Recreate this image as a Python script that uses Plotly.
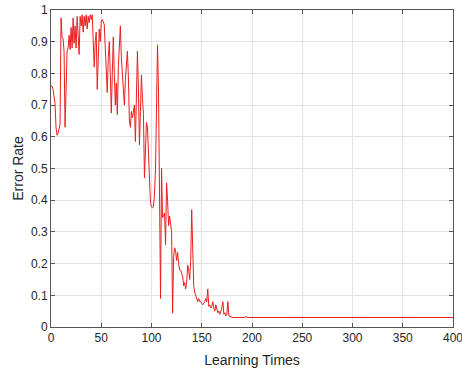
import plotly.graph_objects as go

learning_times = list(range(0, 201)) + [400]
error_rate = [
    0.76, 0.76, 0.75, 0.72, 0.705, 0.63, 0.605, 0.61, 0.63, 0.64,
    0.975, 0.915, 0.91, 0.87, 0.63, 0.78, 0.87, 0.88, 0.92, 0.875,
    0.945, 0.88, 0.975, 0.895, 0.95, 0.88, 0.98, 0.92, 0.86, 0.98,
    0.95, 0.985, 0.93, 0.98, 0.95, 0.985, 0.94, 0.98, 0.96, 0.985,
    0.97, 0.985, 0.91, 0.82, 0.90, 0.93, 0.75, 0.88, 0.94, 0.90,
    0.965, 0.97, 0.96, 0.955, 0.88, 0.82, 0.74, 0.85, 0.90, 0.80,
    0.675, 0.80, 0.915, 0.80, 0.70, 0.77, 0.67, 0.82, 0.89, 0.95,
    0.85, 0.80, 0.76, 0.70, 0.78, 0.83, 0.87, 0.79, 0.65, 0.63,
    0.68, 0.66, 0.68, 0.70, 0.585, 0.70, 0.87, 0.75, 0.575, 0.68,
    0.795, 0.72, 0.67, 0.47, 0.60, 0.645, 0.63, 0.54, 0.50, 0.39,
    0.38, 0.375, 0.38, 0.42, 0.50, 0.75, 0.89, 0.74, 0.41, 0.09,
    0.50, 0.345, 0.35, 0.36, 0.26, 0.455, 0.40, 0.32, 0.35, 0.33,
    0.30, 0.044, 0.22, 0.25, 0.24, 0.21, 0.235, 0.20, 0.18, 0.18,
    0.17, 0.16, 0.13, 0.14, 0.12, 0.14, 0.195, 0.18, 0.15, 0.21,
    0.37, 0.265, 0.13, 0.11, 0.10, 0.085, 0.08, 0.09, 0.08, 0.08,
    0.075, 0.07, 0.075, 0.08, 0.09, 0.08, 0.12, 0.065, 0.07, 0.06,
    0.065, 0.08, 0.06, 0.05, 0.07, 0.06, 0.045, 0.05, 0.04, 0.05,
    0.06, 0.08, 0.04, 0.045, 0.035, 0.04, 0.08, 0.035, 0.033, 0.032,
    0.031, 0.03, 0.03, 0.03, 0.03, 0.03, 0.03, 0.03, 0.03, 0.03,
    0.03, 0.03, 0.03, 0.03, 0.033, 0.03, 0.03, 0.03, 0.03, 0.03,
    0.03, 0.03,
]

x_ticks = [0, 50, 100, 150, 200, 250, 300, 350, 400]
y_ticks = [0, 0.1, 0.2, 0.3, 0.4, 0.5, 0.6, 0.7, 0.8, 0.9, 1]
y_tick_text = ["0", "0.1", "0.2", "0.3", "0.4", "0.5", "0.6", "0.7", "0.8", "0.9", "1"]

fig = go.Figure()
fig.add_trace(go.Scatter(
    x=learning_times, y=error_rate, mode="lines",
    line=dict(color="rgb(235,30,30)", width=1),
    showlegend=False, hoverinfo="skip",
))

axis_common = dict(
    showline=True, linecolor="#555555", linewidth=1, mirror="allticks",
    ticks="inside", ticklen=4, tickcolor="#555555", tickwidth=1,
    showgrid=True, gridcolor="#e3e3e3", gridwidth=1, zeroline=False,
    automargin=False, ticklabeloverflow="allow",
    tickfont=dict(family="Liberation Sans, Arial, sans-serif", size=12, color="#262626"),
    title_font=dict(family="Liberation Sans, Arial, sans-serif", size=14, color="#262626"),
)

fig.update_layout(
    width=462, height=371,
    margin=dict(l=51, r=9, t=10, b=44),
    paper_bgcolor="white", plot_bgcolor="white",
    xaxis=dict(range=[0, 400], tickvals=x_ticks, title=dict(text="Learning Times", standoff=10), **axis_common),
    yaxis=dict(range=[0, 1], tickvals=y_ticks, ticktext=y_tick_text, title=dict(text="Error Rate", standoff=4), **axis_common),
)

fig.write_html(
    "out.html",
    config={"displayModeBar": False, "staticPlot": True},
    post_script="document.body.style.margin='0';document.body.style.overflow='hidden';",
)
